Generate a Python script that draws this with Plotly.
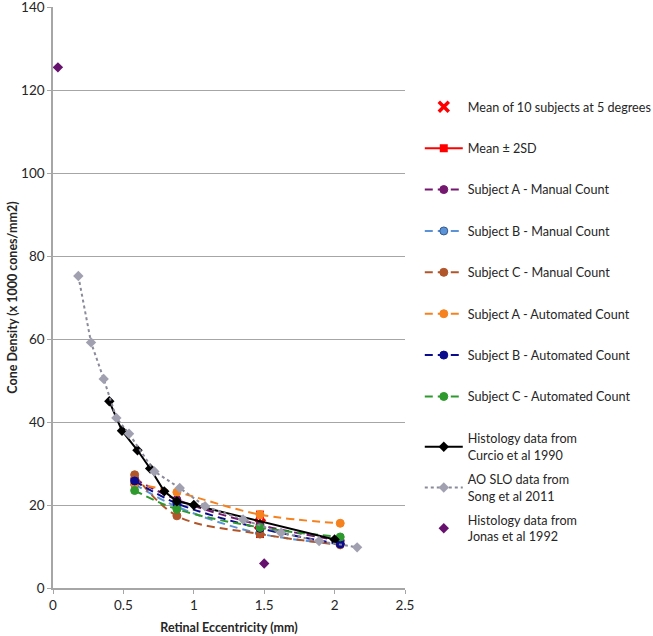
import plotly.graph_objects as go

# ---- data ----
subj_x = [0.58, 0.88, 1.47, 2.04]
a_manual = [26.3, 21.3, 15.2, 11.4]
b_manual = [25.0, 19.6, 13.1, 10.6]
c_manual = [27.3, 17.4, 13.0, 10.4]
a_auto = [25.2, 23.1, 17.7, 15.6]
b_auto = [25.8, 20.4, 14.4, 10.6]
c_auto = [23.5, 19.0, 14.6, 12.3]

mean_x = [1.47]
mean_y = [15.4]
sd_x = [1.47, 1.47]
sd_y = [17.7, 13.0]

curcio_x = [0.40, 0.49, 0.60, 0.69, 0.79, 0.88, 1.00, 2.00]
curcio_y = [45.0, 37.9, 33.2, 28.8, 23.3, 20.9, 20.0, 11.7]

song_x = [0.18, 0.27, 0.36, 0.45, 0.54, 0.72, 0.90, 1.08, 1.35, 1.62, 1.89, 2.16]
song_y = [75.2, 59.2, 50.4, 41.0, 37.2, 28.1, 24.1, 19.7, 16.5, 13.3, 11.3, 9.8]

jonas_x = [0.035, 1.50]
jonas_y = [125.5, 5.9]

x_ticks = [0, 0.5, 1, 1.5, 2, 2.5]
x_labels = ["0", "0.5", "1", "1.5", "2", "2.5"]
y_ticks = [0, 20, 40, 60, 80, 100, 120, 140]

FONT = "Lato, 'Open Sans', sans-serif"
DASH = "8px,5px"
TXT = "#262626"

fig = go.Figure()

def subj(name, y, color, outline=None):
    fig.add_trace(go.Scatter(
        x=subj_x, y=y, name=name, mode="lines+markers",
        line=dict(color=color, width=2, dash=DASH, shape="spline"),
        marker=dict(symbol="circle", size=8, color=color,
                    line=dict(color=outline or color, width=1)),
        legendgroup=name, legend="legend"))

fig.add_trace(go.Scatter(
    x=mean_x, y=mean_y, name="Mean of 10 subjects at 5 degrees", mode="markers",
    marker=dict(symbol="x-thin", size=10, color="#FF0000",
                line=dict(color="#FF0000", width=3.5)),
    legendgroup="mean", legend="legend"))
fig.add_trace(go.Scatter(
    x=sd_x, y=sd_y, name="Mean ± 2SD", mode="lines+markers",
    line=dict(color="#FF0000", width=2),
    marker=dict(symbol="square", size=8, color="#FF0000"),
    legendgroup="sd", legend="legend"))

subj("Subject A - Manual Count", a_manual, "#73186E")
subj("Subject B - Manual Count", b_manual, "#5B93D8", "#34598C")
subj("Subject C - Manual Count", c_manual, "#B0562A")
subj("Subject A - Automated Count", a_auto, "#F5821F")
subj("Subject B - Automated Count", b_auto, "#0B0B8E")
subj("Subject C - Automated Count", c_auto, "#2E9A2E")

fig.add_trace(go.Scatter(
    x=curcio_x, y=curcio_y, name="Histology data from<br>Curcio et al 1990",
    mode="lines+markers",
    line=dict(color="#000000", width=2),
    marker=dict(symbol="diamond", size=8, color="#000000"),
    legendgroup="curcio", legend="legend2"))
fig.add_trace(go.Scatter(
    x=song_x, y=song_y, name="AO SLO data from<br>Song et al 2011",
    mode="lines+markers",
    line=dict(color="#8A8A9A", width=2, dash="dot"),
    marker=dict(symbol="diamond", size=8, color="#A0A0B0"),
    legendgroup="song", legend="legend2"))
fig.add_trace(go.Scatter(
    x=jonas_x, y=jonas_y, name="Histology data from<br>Jonas et al 1992",
    mode="markers",
    marker=dict(symbol="diamond", size=8, color="#66116E"),
    legendgroup="jonas", legend="legend2"))

LX = 1.042
fig.update_layout(
    width=653, height=636,
    margin=dict(l=53, r=248, t=7, b=48, autoexpand=False),
    paper_bgcolor="white", plot_bgcolor="white",
    font=dict(family=FONT, size=13, color=TXT),
    showlegend=True,
    legend=dict(x=LX, y=0.8535, xanchor="left", yanchor="top",
                font=dict(family=FONT, size=12.6, color=TXT),
                tracegroupgap=22, itemwidth=38, bgcolor="rgba(0,0,0,0)"),
    legend2=dict(x=LX, y=0.2826, xanchor="left", yanchor="top",
                 font=dict(family=FONT, size=12.6, color=TXT),
                 tracegroupgap=5, itemwidth=38, bgcolor="rgba(0,0,0,0)"),
)
fig.update_xaxes(
    range=[0, 2.5], tickvals=x_ticks, ticktext=x_labels,
    showgrid=False, zeroline=False,
    showline=True, linecolor="#A6A6A6", linewidth=1.5,
    ticks="outside", ticklen=4, tickcolor="#A6A6A6",
    ticklabeloverflow="allow", tickfont=dict(size=13.5),
    title=dict(text="<b>Retinal Eccentricity (mm)</b>", font=dict(size=12.5, family=FONT, color=TXT), standoff=11),
)
fig.update_yaxes(
    range=[0, 140.05], tickvals=y_ticks,
    showgrid=True, gridcolor="#A6A6A6", gridwidth=1, zeroline=False,
    showline=True, linecolor="#A6A6A6", linewidth=1.5,
    ticks="outside", ticklen=4, tickcolor="#A6A6A6",
    ticklabeloverflow="allow", tickfont=dict(size=13.5),
    title=dict(text="<b>Cone Density (x 1000 cones/mm2)</b>", font=dict(size=12.5, family=FONT, color=TXT), standoff=1),
)

fig.write_html("out.html", post_script="document.body.style.margin='0';",
               config={"displayModeBar": False})
